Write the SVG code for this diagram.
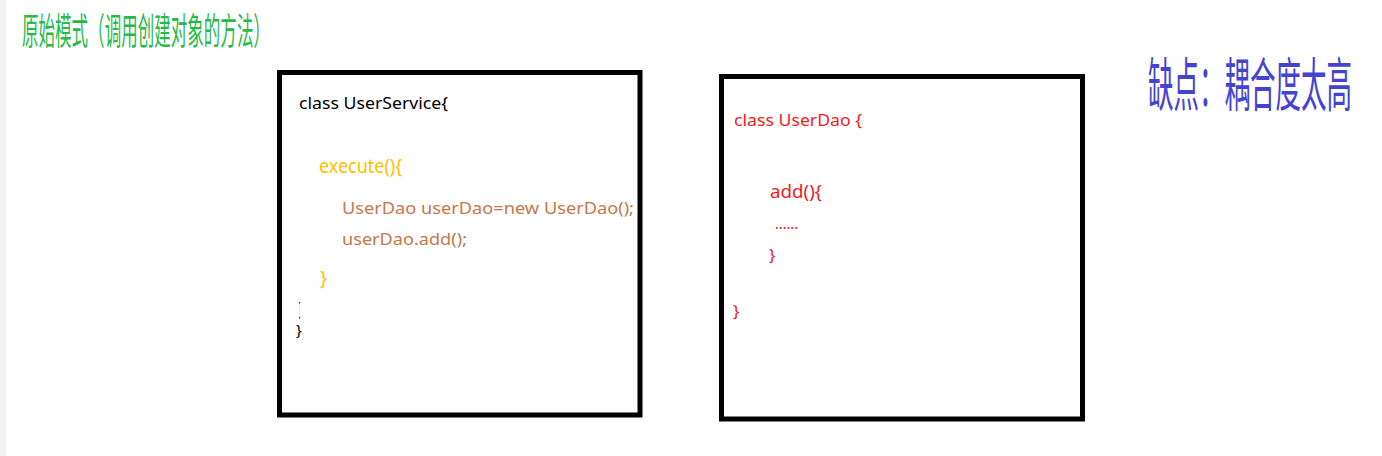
<svg xmlns="http://www.w3.org/2000/svg" width="1382" height="456" viewBox="0 0 1382 456">
<style>
.box{fill:#ffffff;stroke:#000000;stroke-width:5}
.code{font-family:"Noto Sans","Liberation Sans","Noto Sans CJK SC",sans-serif}
.cjk{font-family:"Noto Sans CJK SC","Noto Sans",sans-serif}
.blk{fill:#000000}
.yel{fill:#ffc000}
.brn{fill:#c5784a}
.red{fill:#ee1c24}
</style>
<rect x="0" y="0" width="1382" height="456" fill="#ffffff"/>
<rect x="0" y="0" width="6" height="456" fill="#f3f3f3"/>
<g id="title">
<text class="cjk" transform="translate(22,45) scale(0.447,1)" x="0" y="0" font-size="37" fill="#27b94a">原始模式（调用创建对象的方法）</text>
</g>
<g id="user-service">
<rect class="box" x="279.5" y="72.5" width="360.5" height="342.5"/>
<text class="code blk" x="299" y="109" font-size="16.5" textLength="149" lengthAdjust="spacingAndGlyphs">class UserService{</text>
<text class="code yel" x="319" y="173" font-size="20" textLength="83" lengthAdjust="spacingAndGlyphs">execute(){</text>
<text class="code brn" x="342" y="214" font-size="17" textLength="292" lengthAdjust="spacingAndGlyphs">UserDao userDao=new UserDao();</text>
<text class="code brn" x="342" y="245" font-size="17" textLength="125" lengthAdjust="spacingAndGlyphs">userDao.add();</text>
<text class="code yel" x="320" y="285" font-size="19">}</text>
<line x1="299.5" y1="303" x2="299.5" y2="318" stroke="#f5e8b0" stroke-width="1"/>
<rect x="299" y="302" width="1.2" height="1.5" fill="#333333"/>
<rect x="299" y="317" width="1.2" height="1.5" fill="#333333"/>
<text class="code blk" x="296" y="335" font-size="15">}</text>
</g>
<g id="user-dao">
<rect class="box" x="721.5" y="76.5" width="361" height="342.5"/>
<text class="code red" x="734" y="126" font-size="17" textLength="128" lengthAdjust="spacingAndGlyphs">class UserDao {</text>
<text class="code red" x="770" y="198" font-size="17.5" textLength="52" lengthAdjust="spacingAndGlyphs">add(){</text>
<text class="code red" x="775" y="229" font-size="17" textLength="23" lengthAdjust="spacingAndGlyphs">......</text>
<text class="code red" x="769" y="261" font-size="17">}</text>
<text class="code red" x="733" y="317" font-size="17">}</text>
</g>
<g id="drawback">
<text class="cjk" transform="translate(1148,106) scale(0.44,1)" x="0" y="0" font-size="58" fill="#4444d0">缺点：耦合度太高</text>
</g>
</svg>
